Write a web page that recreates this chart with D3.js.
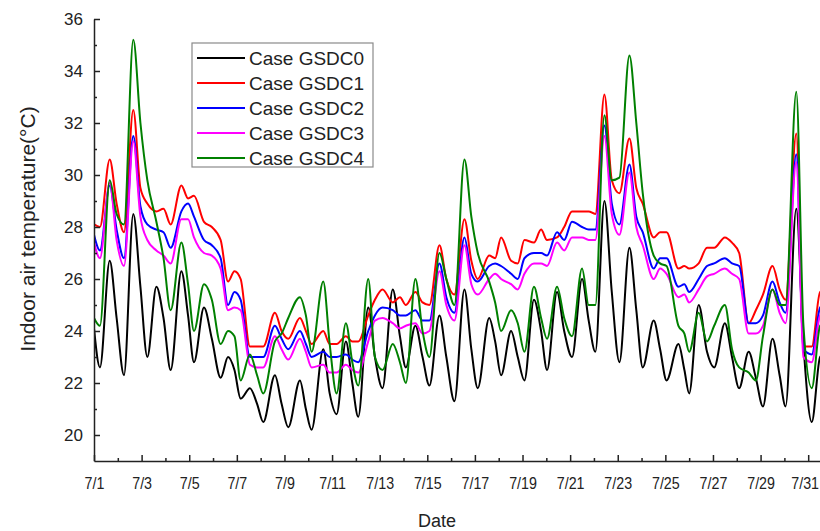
<!DOCTYPE html>
<html>
<head>
<meta charset="utf-8">
<script src="https://cdn.jsdelivr.net/npm/d3@7"></script>
<style>
  body { margin: 0; background: #fff; }
  svg { font-family: 'Liberation Sans', Arial, sans-serif; }
  .axis path, .axis line { stroke: #222; stroke-width: 1.5px; }
  .axis text { font-size: 17px; fill: #222; }
  .chart-line { fill: none; stroke-width: 2px; stroke-linejoin: round; }
</style>
</head>
<body>
<div id="chart"></div>
<script>
// time in days since 7/1 00:00 (morning low, afternoon peak, evening for each day)
const days = [0,
  0.25, 0.66, 0.95,   1.26, 1.65, 1.95,   2.24, 2.62, 2.92,   3.22, 3.67, 3.95,
  4.20, 4.62, 4.95,   5.32, 5.63, 5.90,   6.16, 6.55, 6.85,   7.11, 7.60, 7.88,
  8.16, 8.65, 8.90,   9.14, 9.63, 9.90,   10.19, 10.58, 10.85, 11.10, 11.52, 11.80,
  12.12, 12.55, 12.85, 13.10, 13.50, 13.80, 14.09, 14.51, 14.80, 15.14, 15.56, 15.85,
  16.12, 16.60, 16.85, 17.10, 17.52, 17.80, 18.08, 18.48, 18.78, 19.03, 19.45, 19.75,
  20.08, 20.50, 20.78, 21.06, 21.44, 21.75, 22.07, 22.49, 22.78, 23.05, 23.51, 23.78,
  24.05, 24.55, 24.80, 25.00, 25.40, 25.75, 26.05, 26.50, 26.80, 27.10, 27.50, 27.80,
  28.10, 28.50, 28.80, 29.05, 29.50, 29.80, 30.15, 30.50, 30.80];

const gsdc0 = [24.1,
  22.6, 26.7, 24.5,   22.3, 28.5, 25.7,   23.0, 25.7, 24.5,   22.5, 26.3, 24.6,
  22.8, 24.9, 23.7,   22.2, 23.0, 22.5,   21.4, 21.8, 21.2,   20.5, 22.3, 21.2,
  20.3, 22.1, 21.0,   20.2, 23.3, 21.6,   20.8, 23.6, 22.0,   20.7, 24.9, 23.0,
  21.8, 25.6, 23.8,   22.6, 24.2, 23.0,   21.9, 24.6, 23.0,   21.3, 25.6, 23.3,
  21.8, 24.5, 23.6,   22.3, 24.0, 23.0,   22.1, 25.2, 24.0,   22.5, 25.5, 24.0,
  23.0, 26.0, 24.4,   23.2, 29.0, 25.5,   22.8, 27.2, 24.8,   22.6, 24.4, 23.3,
  22.1, 23.5, 22.5,   21.6, 25.0, 23.2,   22.6, 24.3, 23.0,   21.8, 23.2, 22.2,
  21.1, 23.7, 22.3,   21.1, 28.7, 23.5,   20.5, 23.0, 23.2];

const gsdc1 = [28.1,
  28.0, 30.6, 28.9,   27.8, 32.5, 29.5,   28.9, 28.6, 28.7,   28.1, 29.6, 29.1,
  29.2, 28.2, 28.0,   27.5, 25.9, 26.3,   26.0, 23.4, 23.4,   23.4, 24.7, 24.0,
  23.7, 24.5, 24.0,   23.5, 24.0, 23.5,   23.5, 23.8, 23.6,   23.6, 24.6, 25.2,
  25.6, 25.1, 25.3,   25.0, 25.5, 25.1,   25.0, 27.3, 26.0,   25.4, 28.3, 26.7,
  26.0, 26.9, 26.8,   27.6, 26.7, 26.6,   27.5, 27.4, 27.9,   27.5, 27.6, 28.0,
  28.6, 28.6, 28.6,   28.5, 33.1, 29.8,   29.3, 31.4, 29.5,   28.9, 27.6, 27.8,
  27.8, 26.4, 26.5,   26.4, 26.6, 27.2,   27.2, 27.6, 27.4,   27.0, 24.3, 24.8,
  25.4, 26.5, 25.6,   25.2, 31.6, 23.4,   23.4, 25.5, 25.6];

const gsdc2 = [27.7,
  27.1, 29.6, 27.9,   26.8, 31.5, 28.8,   28.1, 27.9, 27.8,   27.2, 28.6, 28.9,
  28.4, 27.5, 27.3,   26.8, 25.0, 25.5,   25.2, 23.0, 23.0,   23.0, 24.2, 23.7,
  23.3, 24.0, 23.5,   23.0, 23.2, 23.0,   23.0, 23.1, 22.9,   22.8, 24.0, 24.6,
  24.9, 24.8, 24.6,   24.6, 24.8, 24.4,   24.4, 26.6, 25.3,   24.7, 27.6, 26.2,
  25.9, 26.5, 26.6,   26.5, 26.2, 26.0,   26.8, 27.0, 27.0,   26.9, 27.8, 27.5,
  28.2, 28.0, 27.9,   27.9, 31.9, 28.9,   28.1, 30.4, 28.4,   27.8, 26.4, 26.8,
  26.8, 25.7, 25.8,   25.5, 26.0, 26.5,   26.6, 26.8, 26.6,   26.5, 24.3, 24.3,
  24.6, 25.9, 25.1,   24.7, 30.8, 23.3,   23.1, 24.9, 25.1];

const gsdc3 = [27.4,
  26.8, 29.7, 27.5,   26.5, 31.3, 28.4,   27.5, 27.1, 26.9,   26.6, 28.3, 28.3,
  27.6, 27.0, 26.9,   26.4, 24.8, 24.9,   24.8, 22.7, 22.6,   22.6, 23.8, 23.3,
  22.9, 23.7, 23.2,   22.6, 22.7, 22.4,   22.4, 22.7, 22.5,   22.4, 23.6, 24.4,
  24.5, 24.3, 24.1,   24.2, 24.3, 23.9,   24.0, 26.3, 25.0,   24.4, 27.3, 25.8,
  25.4, 26.0, 26.2,   26.0, 25.8, 25.6,   26.2, 26.6, 26.6,   26.5, 27.4, 27.1,
  27.6, 27.6, 27.5,   27.5, 31.5, 28.5,   27.7, 30.1, 28.0,   27.3, 26.0, 26.4,
  26.2, 25.3, 25.4,   25.1, 25.6, 26.1,   26.2, 26.4, 26.2,   26.0, 23.9, 23.9,
  24.2, 25.6, 24.7,   24.3, 30.5, 23.0,   22.8, 24.6, 24.8];

const gsdc4 = [24.5,
  24.2, 29.8, 28.5,   28.1, 35.2, 32.0,   29.8, 28.2, 26.8,   24.8, 27.4, 25.8,
  24.0, 25.8, 25.2,   23.5, 24.0, 23.8,   22.1, 23.1, 22.3,   21.6, 23.6, 23.9,
  24.5, 25.3, 24.6,   23.2, 25.9, 23.5,   21.6, 24.3, 22.8,   21.9, 26.0, 23.0,
  22.5, 23.5, 22.8,   22.0, 26.0, 24.0,   23.0, 27.0, 26.0,   25.0, 30.6, 28.4,
  27.0, 25.9, 25.1,   24.0, 24.8, 24.3,   23.2, 25.7, 24.5,   23.7, 25.7, 24.5,
  23.8, 26.4, 25.0,   25.0, 32.3, 29.8,   29.9, 34.6, 32.0,   29.3, 26.9, 26.6,
  26.5, 24.2, 23.9,   23.2, 24.7, 23.6,   24.2, 25.0, 23.3,   22.6, 22.4, 22.1,
  23.8, 25.6, 25.0,   25.0, 33.2, 24.2,   21.8, 24.2, 24.4];

const seriesNames = ['Case GSDC0', 'Case GSDC1', 'Case GSDC2', 'Case GSDC3', 'Case GSDC4'];
const seriesValues = [gsdc0, gsdc1, gsdc2, gsdc3, gsdc4];
const seriesColors = ['#000000', '#ff0000', '#0000ff', '#ff00ff', '#008000'];

const xMajorTicks = [0, 2, 4, 6, 8, 10, 12, 14, 16, 18, 20, 22, 24, 26, 28, 30];
const xTickLabels = ['7/1', '7/3', '7/5', '7/7', '7/9', '7/11', '7/13', '7/15',
  '7/17', '7/19', '7/21', '7/23', '7/25', '7/27', '7/29', '7/31'];
const xMinorTicks = [1, 3, 5, 7, 9, 11, 13, 15, 17, 19, 21, 23, 25, 27, 29];
const yMajorTicks = [20, 22, 24, 26, 28, 30, 32, 34, 36];
const yMinorTicks = [21, 23, 25, 27, 29, 31, 33, 35];

class TempChart {
    constructor(_config) {
        this.config = {
            parentElement: _config.parentElement,
            containerWidth: _config.containerWidth || 820,
            containerHeight: _config.containerHeight || 531,
            margin: _config.margin || {top: 19, right: -12, bottom: 70, left: 94},
        }
        this.initVis();
    }

    initVis() {
        let vis = this;

        vis.width = vis.config.containerWidth - vis.config.margin.left - vis.config.margin.right;
        vis.height = vis.config.containerHeight - vis.config.margin.top - vis.config.margin.bottom;

        vis.xScale = d3.scaleLinear()
            .domain([0, 31])
            .range([0, vis.width]);

        vis.yScale = d3.scaleLinear()
            .domain([19, 36])
            .range([vis.height, 0]);

        vis.svg = d3.select(vis.config.parentElement).append('svg')
            .attr('width', vis.config.containerWidth)
            .attr('height', vis.config.containerHeight);

        vis.chart = vis.svg.append('g')
            .attr('transform', `translate(${vis.config.margin.left},${vis.config.margin.top})`);

        // keep the lines inside the plot area
        vis.chart.append('clipPath')
            .attr('id', 'plot-clip')
          .append('rect')
            .attr('x', 0)
            .attr('y', -5)
            .attr('width', vis.width)
            .attr('height', vis.height + 5);

        vis.marks = vis.chart.append('g')
            .attr('clip-path', 'url(#plot-clip)');

        vis.xAxisG = vis.chart.append('g')
            .attr('class', 'axis x-axis')
            .attr('transform', `translate(0,${vis.height})`);

        vis.xMinorG = vis.chart.append('g')
            .attr('class', 'axis x-minor')
            .attr('transform', `translate(0,${vis.height})`);

        vis.yAxisG = vis.chart.append('g')
            .attr('class', 'axis y-axis');

        vis.yMinorG = vis.chart.append('g')
            .attr('class', 'axis y-minor');

        vis.svg.append('text')
            .attr('transform', 'translate(28,229) rotate(-90)')
            .attr('text-anchor', 'middle')
            .attr('dy', '0.35em')
            .style('font-size', '21px')
            .style('fill', '#222')
            .text('Indoor air temperature(°C)');

        vis.svg.append('text')
            .attr('x', 437)
            .attr('y', 527)
            .attr('text-anchor', 'middle')
            .style('font-size', '18px')
            .style('fill', '#222')
            .text('Date');

        vis.legend = vis.svg.append('g')
            .attr('class', 'legend')
            .attr('transform', 'translate(192,43)');

        vis.legend.append('rect')
            .attr('width', 181)
            .attr('height', 124)
            .attr('fill', '#fff')
            .attr('stroke', '#8a8a8a')
            .attr('stroke-width', 1.2);
    }

    updateVis() {
        let vis = this;

        vis.data = seriesNames.map((name, i) => ({
            name: name,
            color: seriesColors[i],
            values: days.map((d, j) => ({day: d, temp: seriesValues[i][j]}))
        }));

        vis.line = d3.line()
            .curve(d3.curveMonotoneX)
            .x(d => vis.xScale(d.day))
            .y(d => vis.yScale(d.temp));

        vis.renderVis();
    }

    renderVis() {
        let vis = this;

        vis.marks.selectAll('.chart-line')
            .data(vis.data)
            .join('path')
            .attr('class', 'chart-line')
            .attr('stroke', d => d.color)
            .attr('d', d => vis.line(d.values));

        vis.xAxisG.call(d3.axisBottom(vis.xScale)
            .tickValues(xMajorTicks)
            .tickFormat((d, i) => xTickLabels[i])
            .tickSizeInner(-6)
            .tickSizeOuter(0)
            .tickPadding(16));

        // the source font is a bit condensed
        vis.xAxisG.selectAll('.tick text')
            .attr('transform', 'scale(0.84,1)')
            .attr('dx', (d, i) => i === xMajorTicks.length - 1 ? '-0.25em' : 0);

        vis.xMinorG.call(d3.axisBottom(vis.xScale)
            .tickValues(xMinorTicks)
            .tickFormat('')
            .tickSizeInner(-3)
            .tickSizeOuter(0));
        vis.xMinorG.select('.domain').remove();

        vis.yAxisG.call(d3.axisLeft(vis.yScale)
            .tickValues(yMajorTicks)
            .tickSizeInner(-6)
            .tickSizeOuter(0)
            .tickPadding(11));

        vis.yMinorG.call(d3.axisLeft(vis.yScale)
            .tickValues(yMinorTicks)
            .tickFormat('')
            .tickSizeInner(-3)
            .tickSizeOuter(0));
        vis.yMinorG.select('.domain').remove();

        const rows = vis.legend.selectAll('.legend-row')
            .data(vis.data)
            .join('g')
            .attr('class', 'legend-row')
            .attr('transform', (d, i) => `translate(0,${15 + i * 25})`);

        rows.append('line')
            .attr('x1', 5)
            .attr('x2', 53)
            .attr('stroke', d => d.color)
            .attr('stroke-width', 2);

        rows.append('text')
            .attr('x', 57)
            .attr('dy', '0.35em')
            .style('font-size', '19px')
            .style('fill', '#222')
            .text(d => d.name);
    }
}

const chart = new TempChart({parentElement: '#chart'});
chart.updateVis();
</script>
</body>
</html>
